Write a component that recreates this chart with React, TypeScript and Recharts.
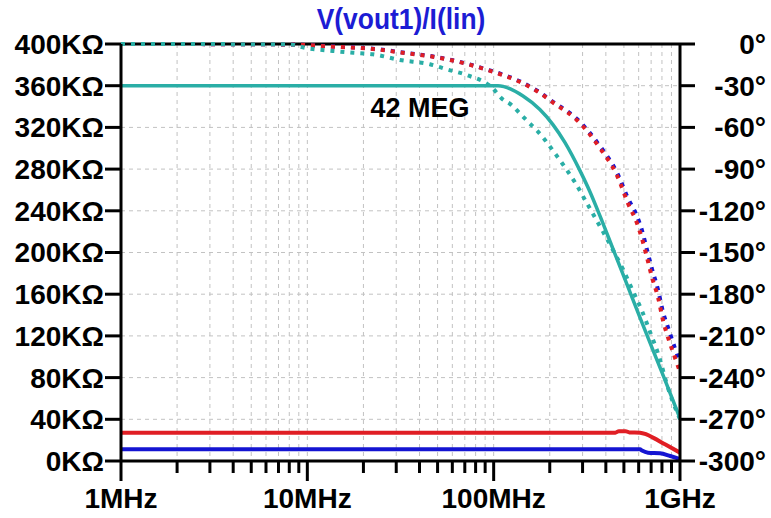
import React from 'react';
import {
  LineChart,
  Line,
  XAxis,
  YAxis,
  CartesianGrid,
  ReferenceLine,
} from 'recharts';

// Frequency in MHz, magnitude in kΩ, phase in degrees.

// Magnitude (solid traces)
const magTeal: [number, number][] = [
  [1, 360], [105.5, 360], [143.7, 350.1], [177, 337.1], [208, 322.7], [241.5, 305.4],
  [290, 278.8], [329, 258.1], [372, 235.1], [437, 203.4], [520, 169.1], [610, 137.5],
  [716, 106.3], [811, 82.3], [1000, 41],
];
const magRed: [number, number][] = [
  [1, 27.2], [450, 27.2], [470, 28.6], [510, 28.6], [535, 27.4], [610, 27.2],
  [660, 25.5], [716, 22.4], [831, 16], [1000, 8],
];
const magBlue: [number, number][] = [
  [1, 11.2], [610, 11.2], [625, 10], [673, 8], [781, 7.5], [886, 4.8], [1000, 1.8],
];

// Phase (dotted traces)
const phaseTeal: [number, number][] = [
  [1, 0], [8, -0.2], [9.7, -2.7], [13.7, -5], [17.6, -6.3], [22.5, -7.4],
  [31.4, -11.5], [45.5, -14.6], [56, -18.2], [72, -22.4], [99, -32], [110, -39],
  [125, -44], [138, -49.8], [153, -56], [170, -62], [189, -69.2], [213, -78.6],
  [233, -85.8], [273, -99.5], [317, -114.7], [386, -135], [448, -151],
  [494, -162], [560, -178], [625, -192], [690, -207], [781, -227],
  [851, -245], [964, -265], [1000, -270],
];
const phaseRed: [number, number][] = [
  [1, 0], [8, -0.3], [13.7, -1.9], [22.5, -3.6], [31.4, -6], [47.3, -9.2],
  [56, -11], [72, -14.4], [90, -18.2], [112, -22.4], [138, -27.2], [173, -34.4],
  [218, -44], [247, -48.8], [280, -54.8], [372, -75], [459, -94.5], [526, -114.7],
  [588, -129], [625, -140], [665, -153.6], [708, -168], [763, -182.5],
  [811, -199], [863, -211.3], [940, -225.7], [1000, -236],
];
const phaseBlue: [number, number][] = [
  [1, 0], [8, -0.3], [13.7, -1.8], [22.5, -3.4], [31.4, -5.8], [47.3, -9],
  [56, -10.8], [72, -14.2], [90, -18], [112, -22], [138, -26.8], [173, -34],
  [218, -43.5], [247, -48], [280, -54], [372, -73.5], [459, -92.5], [526, -111],
  [588, -124], [625, -134], [665, -148], [708, -162], [763, -177], [811, -193],
  [863, -204], [940, -219], [1000, -229],
];

// Axis ticks
const decades = [1, 10, 100, 1000];
const decadeLabels = ['1MHz', '10MHz', '100MHz', '1GHz'];
const xTicks: number[] = [
  1, 2, 3, 4, 5, 6, 7, 8, 9,
  10, 20, 30, 40, 50, 60, 70, 80, 90,
  100, 200, 300, 400, 500, 600, 700, 800, 900,
  1000,
];
const magTicks = [0, 40, 80, 120, 160, 200, 240, 280, 320, 360, 400];
const phaseTicks = [-300, -270, -240, -210, -180, -150, -120, -90, -60, -30, 0];

const TITLE = 'V(vout1)/I(lin)';
const NOTE = '42 MEG';

const toRows = (pts: [number, number][]) => pts.map(([f, v]) => ({ f, v }));

const FONT = '"Liberation Sans", Arial, sans-serif';
const TEAL = '#2aaea6';
const RED = '#e01e24';
const BLUE = '#1515d2';

const XTick = (props: any) => {
  const { x, y, payload } = props;
  const idx = decades.indexOf(payload.value);
  const major = idx >= 0;
  return (
    <g>
      <line x1={x} x2={x} y1={y} y2={y + (major ? 20 : 12)} stroke="#000" strokeWidth={3} />
      {major && (
        <text
          x={x}
          y={y + 47}
          textAnchor="middle"
          fontFamily={FONT}
          fontWeight="bold"
          fontSize={28}
          fill="#000"
        >
          {decadeLabels[idx]}
        </text>
      )}
    </g>
  );
};

const PhaseTick = (props: any) => {
  const { x, y, payload } = props;
  return (
    <text
      x={x + 69}
      y={y}
      dy="0.355em"
      textAnchor="end"
      fontFamily={FONT}
      fontWeight="bold"
      fontSize={28}
      fill="#000"
    >
      {`${payload.value}°`}
    </text>
  );
};

export default function App() {
  return (
    <div style={{ position: 'absolute', left: 0, top: 0, width: 771, height: 518, background: '#fff' }}>
      <LineChart width={771} height={518} margin={{ top: 44, right: 0, bottom: 0, left: 0 }}>
        <CartesianGrid yAxisId="mag" stroke="#c2c2c2" strokeDasharray="4 4" />
        <XAxis
          dataKey="f"
          type="number"
          scale="log"
          domain={[1, 1000]}
          ticks={xTicks}
          interval={0}
          allowDataOverflow
          height={57}
          tickSize={0}
          tickMargin={0}
          tickLine={false}
          axisLine={{ stroke: '#000', strokeWidth: 3 }}
          tick={<XTick />}
        />
        <YAxis
          yAxisId="mag"
          orientation="left"
          width={121}
          domain={[0, 400]}
          ticks={magTicks}
          interval={0}
          tickFormatter={(v: number) => `${v}KΩ`}
          tickSize={16}
          tickMargin={1}
          tickLine={{ stroke: '#000', strokeWidth: 3 }}
          axisLine={{ stroke: '#000', strokeWidth: 3 }}
          tick={{ fill: '#000', fontSize: 28, fontWeight: 'bold', fontFamily: FONT }}
        />
        <YAxis
          yAxisId="phase"
          orientation="right"
          width={91}
          domain={[-300, 0]}
          ticks={phaseTicks}
          interval={0}
          tickSize={15}
          tickMargin={2}
          tickLine={{ stroke: '#000', strokeWidth: 3 }}
          axisLine={{ stroke: '#000', strokeWidth: 3 }}
          tick={<PhaseTick />}
        />
        <ReferenceLine yAxisId="mag" y={400} stroke="#000" strokeWidth={3} />

        <Line yAxisId="phase" data={toRows(phaseBlue)} dataKey="v" type="monotone" stroke={BLUE}
          strokeWidth={4} strokeDasharray="4 6" dot={false} isAnimationActive={false} />
        <Line yAxisId="phase" data={toRows(phaseRed)} dataKey="v" type="monotone" stroke={RED}
          strokeWidth={4} strokeDasharray="4 6" dot={false} isAnimationActive={false} />
        <Line yAxisId="phase" data={toRows(phaseTeal)} dataKey="v" type="monotone" stroke={TEAL}
          strokeWidth={4} strokeDasharray="4 6" dot={false} isAnimationActive={false} />

        <Line yAxisId="mag" data={toRows(magRed)} dataKey="v" type="monotone" stroke={RED}
          strokeWidth={4} dot={false} isAnimationActive={false} />
        <Line yAxisId="mag" data={toRows(magBlue)} dataKey="v" type="monotone" stroke={BLUE}
          strokeWidth={4} dot={false} isAnimationActive={false} />
        <Line yAxisId="mag" data={toRows(magTeal)} dataKey="v" type="monotone" stroke={TEAL}
          strokeWidth={3.5} dot={false} isAnimationActive={false} />
      </LineChart>
      <svg
        width={771}
        height={518}
        style={{ position: 'absolute', left: 0, top: 0, pointerEvents: 'none' }}
      >
        <g transform="translate(401 29) scale(0.88 1)">
          <text x={0} y={0} textAnchor="middle" fontFamily={FONT} fontWeight="bold" fontSize={30} fill="#1c1cd4">
            {TITLE}
          </text>
        </g>
        <text x={420} y={117} textAnchor="middle" fontFamily={FONT} fontWeight="bold" fontSize={27} fill="#000">
          {NOTE}
        </text>
      </svg>
    </div>
  );
}
